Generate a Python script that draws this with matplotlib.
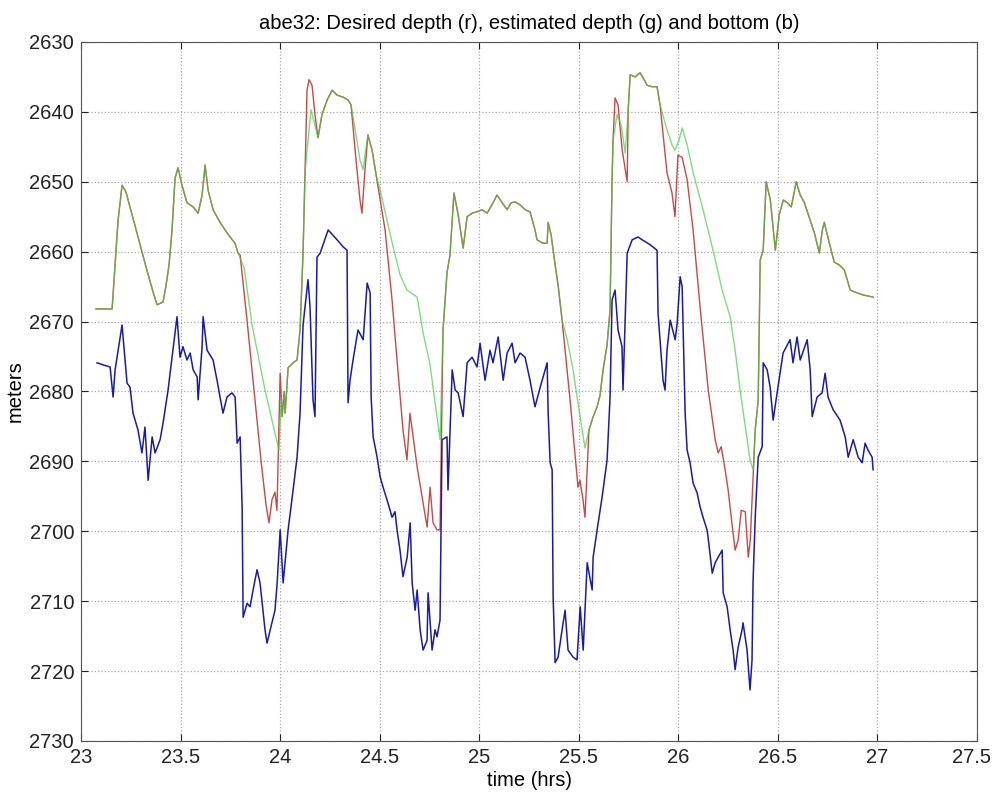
import matplotlib
matplotlib.use("Agg")
import matplotlib.pyplot as plt
import matplotlib.transforms as mtransforms

# desired depth (red)
red_time = [
    23.075, 23.156, 23.171, 23.186, 23.206, 23.226, 23.256, 23.296, 23.337,
    23.362, 23.382, 23.412, 23.427, 23.442, 23.457, 23.472, 23.487, 23.507,
    23.532, 23.563, 23.588, 23.608, 23.623, 23.638, 23.663, 23.698, 23.733,
    23.773, 23.789, 23.799, 23.834, 23.869, 23.904, 23.929, 23.944, 23.959,
    23.974, 23.984, 24.000, 24.010, 24.020, 24.025, 24.040, 24.065, 24.085,
    24.100, 24.115, 24.125, 24.135, 24.145, 24.160, 24.175, 24.190, 24.210,
    24.236, 24.261, 24.286, 24.316, 24.341, 24.356, 24.381, 24.401, 24.411,
    24.426, 24.441, 24.462, 24.482, 24.527, 24.562, 24.587, 24.617, 24.637,
    24.652, 24.688, 24.718, 24.738, 24.753, 24.768, 24.788, 24.803, 24.818,
    24.838, 24.853, 24.873, 24.894, 24.919, 24.939, 24.964, 24.989, 25.014,
    25.039, 25.064, 25.089, 25.115, 25.140, 25.160, 25.180, 25.205, 25.230,
    25.255, 25.280, 25.290, 25.320, 25.341, 25.346, 25.361, 25.381, 25.396,
    25.416, 25.456, 25.481, 25.496, 25.506, 25.521, 25.531, 25.551, 25.572,
    25.592, 25.607, 25.622, 25.642, 25.657, 25.667, 25.672, 25.682, 25.697,
    25.718, 25.743, 25.748, 25.758, 25.783, 25.808, 25.828, 25.843, 25.868,
    25.893, 25.908, 25.943, 25.968, 25.983, 25.998, 26.019, 26.044, 26.074,
    26.109, 26.150, 26.185, 26.200, 26.215, 26.235, 26.250, 26.270, 26.285,
    26.300, 26.316, 26.336, 26.351, 26.361, 26.386, 26.401, 26.411, 26.426,
    26.441, 26.462, 26.487, 26.507, 26.527, 26.547, 26.567, 26.592, 26.612,
    26.633, 26.653, 26.683, 26.708, 26.723, 26.733, 26.748, 26.763, 26.783,
    26.808, 26.833, 26.848, 26.863, 26.898, 26.928, 26.978,
]
red_depth = [
    2668.2, 2668.2, 2661.9, 2655.5, 2650.5, 2651.5, 2654.7, 2659.0, 2663.3,
    2665.8, 2667.6, 2667.2, 2664.8, 2661.9, 2656.9, 2649.5, 2648.0, 2650.5,
    2653.0, 2653.6, 2654.5, 2651.9, 2647.6, 2651.2, 2654.0, 2655.8, 2657.3,
    2658.8, 2660.2, 2660.5, 2669.9, 2679.9, 2689.9, 2696.2, 2698.8, 2695.5,
    2694.4, 2697.0, 2677.4, 2683.6, 2680.0, 2683.1, 2676.6, 2675.9, 2675.5,
    2671.2, 2660.2, 2648.7, 2636.9, 2635.4, 2636.2, 2640.4, 2643.7, 2640.4,
    2638.3, 2636.9, 2637.6, 2637.9, 2638.3, 2639.0, 2646.9, 2652.6, 2654.5,
    2648.3, 2643.3, 2645.5, 2649.0, 2656.9, 2666.9, 2675.5, 2685.5, 2689.8,
    2683.1, 2690.8, 2696.0, 2699.4, 2693.7, 2698.8, 2699.8, 2699.8, 2671.2,
    2663.0, 2660.5, 2651.6, 2654.7, 2659.5, 2655.0, 2654.5, 2654.3, 2654.0,
    2654.5, 2653.3, 2651.9, 2653.0, 2654.0, 2653.0, 2652.9, 2653.3, 2654.0,
    2654.3, 2656.9, 2658.3, 2658.8, 2658.8, 2655.8, 2657.6, 2661.9, 2664.8,
    2669.8, 2681.2, 2689.1, 2693.7, 2692.7, 2695.5, 2698.0, 2685.5, 2683.6,
    2682.2, 2680.5, 2676.9, 2673.3, 2668.3, 2649.7, 2644.0, 2638.0, 2639.0,
    2645.5, 2650.0, 2639.7, 2634.7, 2635.0, 2634.4, 2635.4, 2636.2, 2636.4,
    2636.4, 2639.0, 2648.7, 2651.6, 2655.0, 2646.2, 2646.5, 2649.7, 2656.9,
    2667.9, 2679.8, 2686.9, 2688.8, 2687.9, 2691.2, 2694.1, 2699.1, 2702.7,
    2701.3, 2697.0, 2697.2, 2703.7, 2701.3, 2685.5, 2681.2, 2661.2, 2659.8,
    2650.0, 2652.6, 2659.8, 2654.7, 2652.6, 2653.0, 2653.6, 2650.0, 2651.9,
    2653.0, 2654.7, 2657.3, 2660.2, 2656.9, 2655.8, 2657.6, 2659.3, 2661.5,
    2661.9, 2662.6, 2664.0, 2665.5, 2665.9, 2666.2, 2666.5,
]

# estimated depth (green)
green_time = [
    23.075, 23.156, 23.171, 23.186, 23.206, 23.226, 23.256, 23.296, 23.337,
    23.362, 23.382, 23.412, 23.427, 23.442, 23.457, 23.472, 23.487, 23.507,
    23.532, 23.563, 23.588, 23.608, 23.623, 23.638, 23.663, 23.698, 23.733,
    23.773, 23.789, 23.819, 23.859, 23.889, 23.924, 23.959, 23.994, 24.005,
    24.010, 24.020, 24.025, 24.040, 24.065, 24.085, 24.100, 24.115, 24.125,
    24.135, 24.155, 24.190, 24.210, 24.236, 24.261, 24.286, 24.316, 24.341,
    24.356, 24.381, 24.401, 24.416, 24.431, 24.441, 24.462, 24.482, 24.502,
    24.567, 24.602, 24.637, 24.688, 24.718, 24.753, 24.783, 24.803, 24.818,
    24.838, 24.853, 24.873, 24.894, 24.919, 24.939, 24.964, 24.989, 25.014,
    25.039, 25.064, 25.089, 25.115, 25.140, 25.160, 25.180, 25.205, 25.230,
    25.255, 25.280, 25.290, 25.320, 25.341, 25.346, 25.361, 25.381, 25.396,
    25.416, 25.441, 25.471, 25.501, 25.531, 25.551, 25.572, 25.592, 25.607,
    25.622, 25.642, 25.657, 25.667, 25.672, 25.692, 25.713, 25.733, 25.748,
    25.758, 25.783, 25.808, 25.828, 25.843, 25.868, 25.893, 25.908, 25.918,
    25.943, 25.968, 25.983, 26.004, 26.019, 26.044, 26.074, 26.124, 26.174,
    26.220, 26.260, 26.285, 26.310, 26.335, 26.361, 26.376, 26.386, 26.401,
    26.411, 26.426, 26.441, 26.462, 26.487, 26.507, 26.527, 26.547, 26.567,
    26.592, 26.612, 26.633, 26.653, 26.683, 26.708, 26.723, 26.733, 26.748,
    26.763, 26.783, 26.808, 26.833, 26.848, 26.863, 26.898, 26.928, 26.978,
]
green_depth = [
    2668.2, 2668.2, 2661.9, 2655.5, 2650.5, 2651.5, 2654.7, 2659.0, 2663.3,
    2665.8, 2667.6, 2667.2, 2664.8, 2661.9, 2656.9, 2649.5, 2648.0, 2650.5,
    2653.0, 2653.6, 2654.5, 2651.9, 2647.6, 2651.2, 2654.0, 2655.8, 2657.3,
    2658.8, 2660.2, 2662.3, 2670.5, 2674.8, 2679.8, 2684.1, 2688.4, 2681.2,
    2683.6, 2680.0, 2683.1, 2676.6, 2675.9, 2675.5, 2671.2, 2660.2, 2648.7,
    2645.5, 2639.7, 2643.7, 2640.4, 2638.3, 2636.9, 2637.6, 2637.9, 2638.3,
    2639.0, 2643.3, 2646.9, 2648.3, 2645.2, 2643.3, 2645.5, 2649.0, 2651.2,
    2659.3, 2663.3, 2665.5, 2666.5, 2671.6, 2676.2, 2682.6, 2686.9, 2671.2,
    2663.0, 2660.5, 2651.6, 2654.7, 2659.5, 2655.0, 2654.5, 2654.3, 2654.0,
    2654.5, 2653.3, 2651.9, 2653.0, 2654.0, 2653.0, 2652.9, 2653.3, 2654.0,
    2654.3, 2656.9, 2658.3, 2658.8, 2658.8, 2655.8, 2657.6, 2661.9, 2664.8,
    2669.8, 2672.5, 2676.9, 2682.6, 2688.1, 2685.5, 2683.6, 2682.2, 2680.5,
    2676.9, 2673.3, 2668.3, 2649.7, 2644.0, 2640.4, 2641.9, 2645.9, 2639.7,
    2634.7, 2635.0, 2634.4, 2635.4, 2636.2, 2636.4, 2636.4, 2639.0, 2640.0,
    2642.6, 2644.7, 2645.5, 2644.0, 2642.3, 2644.7, 2648.7, 2654.0, 2659.8,
    2665.5, 2669.3, 2674.1, 2679.8, 2684.8, 2690.0, 2691.2, 2685.5, 2681.2,
    2661.2, 2659.8, 2650.0, 2652.6, 2659.8, 2654.7, 2652.6, 2653.0, 2653.6,
    2650.0, 2651.9, 2653.0, 2654.7, 2657.3, 2660.2, 2656.9, 2655.8, 2657.6,
    2659.3, 2661.5, 2661.9, 2662.6, 2664.0, 2665.5, 2665.9, 2666.2, 2666.5,
]

# bottom (blue)
blue_time = [
    23.080, 23.111, 23.146, 23.161, 23.171, 23.206, 23.231, 23.246, 23.261,
    23.286, 23.306, 23.321, 23.337, 23.357, 23.372, 23.397, 23.412, 23.437,
    23.457, 23.482, 23.497, 23.512, 23.532, 23.548, 23.563, 23.583, 23.588,
    23.608, 23.613, 23.633, 23.663, 23.683, 23.698, 23.713, 23.733, 23.758,
    23.774, 23.784, 23.799, 23.809, 23.814, 23.834, 23.849, 23.864, 23.884,
    23.899, 23.924, 23.934, 23.959, 23.974, 23.985, 24.000, 24.015, 24.040,
    24.065, 24.085, 24.100, 24.115, 24.140, 24.150, 24.165, 24.175, 24.185,
    24.201, 24.241, 24.286, 24.316, 24.336, 24.341, 24.351, 24.366, 24.391,
    24.417, 24.437, 24.452, 24.457, 24.467, 24.487, 24.502, 24.517, 24.542,
    24.562, 24.577, 24.587, 24.602, 24.617, 24.638, 24.653, 24.663, 24.678,
    24.688, 24.703, 24.718, 24.738, 24.743, 24.763, 24.778, 24.788, 24.803,
    24.813, 24.838, 24.843, 24.864, 24.879, 24.894, 24.919, 24.939, 24.964,
    24.989, 25.004, 25.029, 25.054, 25.069, 25.095, 25.120, 25.140, 25.165,
    25.180, 25.205, 25.230, 25.255, 25.280, 25.306, 25.341, 25.346, 25.356,
    25.366, 25.371, 25.381, 25.396, 25.416, 25.431, 25.446, 25.471, 25.491,
    25.507, 25.522, 25.542, 25.567, 25.572, 25.592, 25.617, 25.642, 25.657,
    25.667, 25.682, 25.697, 25.717, 25.722, 25.743, 25.768, 25.798, 25.818,
    25.858, 25.893, 25.898, 25.908, 25.923, 25.933, 25.943, 25.959, 25.984,
    25.994, 26.009, 26.019, 26.024, 26.034, 26.044, 26.059, 26.074, 26.094,
    26.109, 26.124, 26.144, 26.149, 26.170, 26.185, 26.200, 26.220, 26.225,
    26.245, 26.260, 26.275, 26.285, 26.300, 26.320, 26.325, 26.345, 26.360,
    26.370, 26.375, 26.386, 26.401, 26.421, 26.426, 26.446, 26.461, 26.476,
    26.496, 26.511, 26.526, 26.561, 26.576, 26.596, 26.612, 26.647, 26.662,
    26.672, 26.697, 26.722, 26.737, 26.752, 26.777, 26.812, 26.838, 26.853,
    26.878, 26.903, 26.923, 26.938, 26.953, 26.973, 26.978,
]
blue_depth = [
    2675.9, 2676.2, 2676.5, 2680.8, 2676.9, 2670.5, 2678.8, 2679.4, 2683.1,
    2685.5, 2688.8, 2685.1, 2692.7, 2686.5, 2688.8, 2686.9, 2684.5, 2679.8,
    2675.1, 2669.3, 2675.1, 2673.6, 2675.5, 2674.5, 2676.9, 2677.9, 2681.2,
    2673.6, 2669.3, 2674.1, 2675.5, 2678.4, 2680.8, 2683.1, 2680.8, 2680.2,
    2680.8, 2687.4, 2686.5, 2696.5, 2712.3, 2710.3, 2710.8, 2708.4, 2705.5,
    2707.4, 2714.1, 2716.0, 2713.1, 2711.3, 2707.4, 2699.8, 2707.4, 2699.8,
    2694.1, 2689.4, 2683.1, 2670.5, 2664.0, 2667.9, 2681.2, 2683.6, 2660.8,
    2660.2, 2656.9, 2658.3, 2659.3, 2659.8, 2681.6, 2678.4, 2675.5, 2671.2,
    2672.6, 2664.5, 2665.9, 2680.8, 2686.5, 2689.4, 2692.2, 2693.7, 2696.0,
    2698.0, 2697.2, 2699.8, 2702.7, 2706.5, 2703.7, 2698.8, 2707.4, 2711.3,
    2708.4, 2714.1, 2717.0, 2715.6, 2708.8, 2717.0, 2714.1, 2715.1, 2712.7,
    2686.9, 2686.5, 2694.1, 2676.9, 2679.8, 2680.2, 2683.6, 2675.9, 2675.1,
    2676.5, 2673.1, 2678.4, 2674.1, 2675.9, 2672.2, 2678.4, 2674.5, 2673.1,
    2675.9, 2674.5, 2675.1, 2678.4, 2682.2, 2679.4, 2675.9, 2683.1, 2690.2,
    2691.2, 2709.4, 2718.8, 2718.0, 2714.1, 2711.3, 2717.0, 2718.0, 2718.4,
    2710.8, 2717.0, 2704.5, 2708.4, 2703.7, 2699.8, 2695.1, 2689.8, 2680.8,
    2666.9, 2665.5, 2671.2, 2673.6, 2679.8, 2660.2, 2658.3, 2657.9, 2658.3,
    2659.0, 2659.8, 2668.8, 2672.6, 2678.4, 2679.8, 2674.1, 2669.8, 2672.6,
    2670.2, 2663.6, 2665.0, 2671.2, 2683.1, 2688.4, 2690.2, 2693.1, 2694.5,
    2696.5, 2698.0, 2699.8, 2700.8, 2706.0, 2704.5, 2703.7, 2702.7, 2708.8,
    2710.8, 2714.1, 2717.0, 2719.8, 2716.6, 2714.1, 2713.1, 2717.0, 2722.7,
    2718.4, 2707.4, 2698.0, 2689.4, 2687.9, 2675.9, 2676.9, 2679.4, 2684.1,
    2680.2, 2677.4, 2674.5, 2672.6, 2675.9, 2672.2, 2675.5, 2672.6, 2676.9,
    2683.6, 2680.8, 2680.2, 2677.4, 2680.8, 2682.6, 2684.1, 2686.5, 2689.4,
    2686.9, 2689.4, 2690.2, 2687.4, 2688.4, 2689.4, 2691.2,
]

x_ticks = [23, 23.5, 24, 24.5, 25, 25.5, 26, 26.5, 27, 27.5]
x_labels = ["23", "23.5", "24", "24.5", "25", "25.5", "26", "26.5", "27", "27.5"]
y_ticks = list(range(2630, 2731, 10))

plt.rcParams["font.family"] = ["Liberation Sans", "DejaVu Sans"]

fig = plt.figure(figsize=(9.92, 7.93), dpi=100)
ax = fig.add_axes([0.0817, 0.0656, 0.9032, 0.8815])

ax.plot(red_time, red_depth, color="#c84848", lw=1.0)
ax.plot(green_time, green_depth, color="#48cc48", lw=1.0, alpha=0.7)
ax.plot(blue_time, blue_depth, color="#1a1aa8", lw=1.1)

ax.set_xlim(23, 27.5)
ax.set_ylim(2730, 2630)
ax.set_xticks(x_ticks)
ax.set_xticklabels(x_labels)
ax.set_yticks(y_ticks)

ax.grid(True, linestyle=":", color="#a8a8a8", linewidth=0.9)
ax.tick_params(direction="in", top=True, right=True, length=5,
               labelsize=14.5, colors="#222222", pad=5)
for s in ax.spines.values():
    s.set_color("#555555")

# last x label sits on the figure edge, nudge it in a few pixels
last = ax.get_xticklabels()[-1]
shift = mtransforms.ScaledTranslation(-6 / 100, 0, fig.dpi_scale_trans)
last.set_transform(last.get_transform() + shift)

ax.set_title("abe32: Desired depth (r), estimated depth (g) and bottom (b)",
             fontsize=14.5, pad=9)
ax.set_xlabel("time (hrs)", fontsize=14.5, labelpad=3)
ax.set_ylabel("meters", fontsize=14.5, labelpad=3)

fig.savefig("out.png", dpi=100)
